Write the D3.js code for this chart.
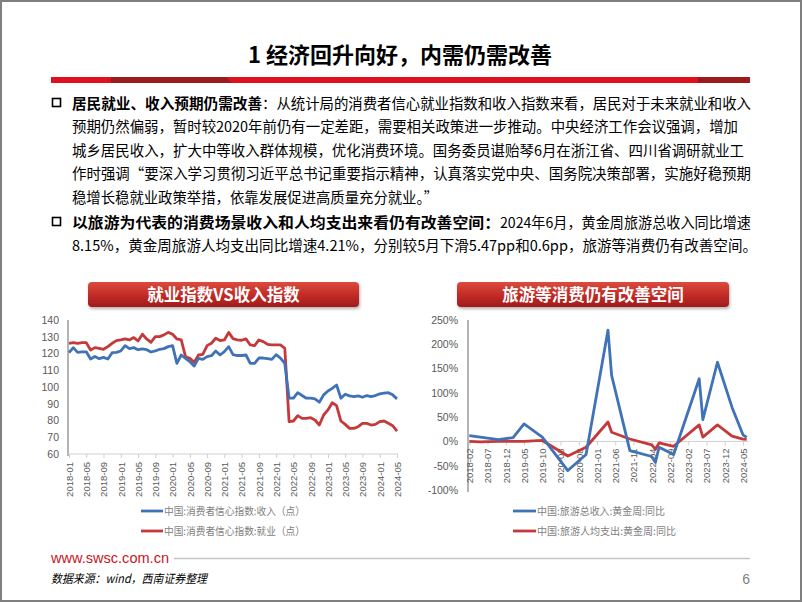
<!DOCTYPE html>
<html><head><meta charset="utf-8">
<script src="https://cdnjs.cloudflare.com/ajax/libs/d3/7.8.5/d3.min.js"></script>
<style>
html,body{margin:0;padding:0;background:#fff;}
svg{display:block;font-family:"Noto Sans CJK SC","Noto Sans",sans-serif;}
</style></head>
<body>
<svg id="c" width="802" height="602"></svg>
<script>
// ---------- DATA ----------
const pageTitle = "1 经济回升向好，内需仍需改善";
const leftTitle = "就业指数VS收入指数";
const rightTitle = "旅游等消费仍有改善空间";

// Left chart: monthly 2018-01 .. 2024-05
const leftStart = "2018-01";
const leftTickLabels = ["2018-01","2018-05","2018-09","2019-01","2019-05","2019-09","2020-01","2020-05","2020-09","2021-01","2021-05","2021-09","2022-01","2022-05","2022-09","2023-01","2023-05","2023-09","2024-01","2024-05"];
const leftYTicks = [60,70,80,90,100,110,120,130,140];
const incomeIndex = [120.5,123.5,120.7,121,121,116.7,118.2,116.9,117.7,116.7,120.5,120.7,121.5,124.7,122.9,123.5,122.3,122.7,122.3,120.9,
  121.5,122.5,122.9,124.1,124.7,114.1,119.1,117.1,115.1,112.5,117.1,116.5,118.1,118.7,121.5,119.1,121.1,124.1,119.3,118.8,
  118.8,119.1,114.1,114.1,117.3,117.3,116.9,116.5,119.3,117.3,114.1,93.3,93.3,96.6,94.9,93.3,93.3,92.9,90.9,95.3,
  97.6,99.2,101.2,93.3,95.7,94.7,94.3,94.7,93.9,94.9,94.3,94.9,95.9,96.3,96.6,95.3,92.9];
const employIndex = [126.1,126.5,126.1,126.5,126.5,122.1,123.5,123.1,122.5,124.1,126.1,127.7,128.1,128.7,128.1,129.5,127.5,131.5,128.7,126.7,
  130.1,130.1,131.1,132.6,131.5,128.7,128.1,118.1,117.1,114.7,119.1,119.5,124.7,126.1,129.1,127.7,128.1,132.6,128.9,128.1,
  127.9,128.7,125.1,124.7,128.1,127.1,125.5,125.1,125.1,125.1,123.1,79.3,79.7,82.9,81.3,81.3,81.7,80.3,77.3,83.3,
  86.3,90.6,88.9,79.7,77.7,75.3,75.3,76.3,78.3,78.3,77.3,77.7,79.3,79.7,78.3,76.9,73.7];
const leftLegend = ["中国:消费者信心指数:收入（点）","中国:消费者信心指数:就业（点）"];

// Right chart: golden-week observations
const rightStart = "2018-02";
const rightEnd = "2024-06";
const rightTickLabels = ["2018-02","2018-07","2018-12","2019-05","2019-10","2020-03","2020-08","2021-01","2021-06","2021-11","2022-04","2022-09","2023-02","2023-07","2023-12","2024-05"];
const rightYTicks = [-100,-50,0,50,100,150,200,250];
const tourDates = ["2018-02","2018-05","2018-10","2019-02","2019-05","2019-10","2020-05","2020-10","2021-04","2021-05","2021-10","2022-04","2022-05","2022-06","2022-10","2023-05","2023-06","2023-10","2024-02","2024-05","2024-06"];
const tourRevenue = [12,9,3.5,8,36,9,-60,-27,229,136,-19,-31,-43,-12,-27,129,45,163,70,13.6,8.15];
const tourSpend   = [0,-1,0,0,0,2,-30,-12,40,19,5,-7,-16,-3,-10,34,9,34,11,4.8,4.21];
const rightLegend = ["中国:旅游总收入:黄金周:同比","中国:旅游人均支出:黄金周:同比"];

// Text block
const bullet1 = [
  {b:"居民就业、收入预期仍需改善", t:"：从统计局的消费者信心就业指数和收入指数来看，居民对于未来就业和收入"},
  {t:"预期仍然偏弱，暂时较2020年前仍有一定差距，需要相关政策进一步推动。中央经济工作会议强调，增加"},
  {t:"城乡居民收入，扩大中等收入群体规模，优化消费环境。国务委员谌贻琴6月在浙江省、四川省调研就业工"},
  {t:"作时强调“要深入学习贯彻习近平总书记重要指示精神，认真落实党中央、国务院决策部署，实施好稳预期"},
  {t:"稳增长稳就业政策举措，依靠发展促进高质量充分就业。”"}
];
const bullet2 = [
  {b:"以旅游为代表的消费场景收入和人均支出来看仍有改善空间：", t:"2024年6月，黄金周旅游总收入同比增速"},
  {t:"8.15%，黄金周旅游人均支出同比增速4.21%，分别较5月下滑5.47pp和0.6pp，旅游等消费仍有改善空间。"}
];
const footerUrl = "www.swsc.com.cn";
const footerSource = "数据来源：wind，西南证券整理";
const pageNum = "6";

// ---------- DRAW ----------
const svg = d3.select("#c");
const defs = svg.append("defs");
const g1 = defs.append("linearGradient").attr("id","tb").attr("x1",0).attr("y1",0).attr("x2",0).attr("y2",1);
g1.append("stop").attr("offset","0%").attr("stop-color","#dc4a3e");
g1.append("stop").attr("offset","55%").attr("stop-color","#c02a26");
g1.append("stop").attr("offset","100%").attr("stop-color","#a11b1c");
const sh = defs.append("filter").attr("id","sh").attr("x","-10%").attr("y","-20%").attr("width","120%").attr("height","160%");
sh.append("feDropShadow").attr("dx",1).attr("dy",2).attr("stdDeviation",1.5).attr("flood-color","#000").attr("flood-opacity",0.3);

// page border
svg.append("rect").attr("x",1).attr("y",1).attr("width",800).attr("height",600)
  .attr("fill","#fff").attr("stroke","#7f7f7f").attr("stroke-width",2);

// title
svg.append("text").attr("x",400).attr("y",63).attr("text-anchor","middle")
  .attr("font-size",22).attr("font-weight",700).attr("fill","#000").text(pageTitle);
// red rule
svg.append("rect").attr("x",51).attr("y",77).attr("width",699).attr("height",6).attr("fill","#df111c");
svg.append("path").attr("d","M111,77 L226,77 L232,83 L111,83 Z").attr("fill","#9c1a1d");
svg.append("rect").attr("x",698).attr("y",77).attr("width",52).attr("height",6).attr("fill","#9c1a1d");

// text block
const FS = 14.5;
function drawLines(lines, y0, widths){
  lines.forEach((ln,i)=>{
    const y = y0 + i*23.6;
    const w = widths[i];
    if(ln.b){
      svg.append("text").attr("x",72).attr("y",y).attr("font-size",FS).attr("font-weight",700)
        .attr("textLength",w[0]-72).attr("lengthAdjust","spacingAndGlyphs").attr("fill","#000").text(ln.b);
      svg.append("text").attr("x",w[0]).attr("y",y).attr("font-size",FS)
        .attr("textLength",w[1]-w[0]).attr("lengthAdjust","spacingAndGlyphs").attr("fill","#000").text(ln.t);
    } else {
      svg.append("text").attr("x",72).attr("y",y).attr("font-size",FS)
        .attr("textLength",w-72).attr("lengthAdjust","spacingAndGlyphs").attr("fill","#000").text(ln.t);
    }
  });
}
function bulletBox(y){
  svg.append("rect").attr("x",52.5).attr("y",y-4.5).attr("width",8).attr("height",8)
    .attr("fill","none").attr("stroke","#000").attr("stroke-width",1.6);
}
bulletBox(103);
drawLines(bullet1, 108.5, [[262,751],738,744,751,438]);
bulletBox(222);
drawLines(bullet2, 227.5, [[500,751],757]);

// chart title boxes
function titleBox(x,w,label){
  svg.append("rect").attr("x",x).attr("y",282).attr("width",w).attr("height",25).attr("rx",4)
    .attr("fill","url(#tb)").attr("filter","url(#sh)");
  svg.append("text").attr("x",x+w/2).attr("y",300.5).attr("text-anchor","middle")
    .attr("font-size",16.5).attr("font-weight",700).attr("fill","#fff").text(label);
}
titleBox(88,271,leftTitle);
titleBox(457,272,rightTitle);

function monthIdx(s, base){
  const [y,m] = s.split("-").map(Number);
  const [by,bm] = base.split("-").map(Number);
  return (y-by)*12 + (m-bm);
}

const BLUE = "#3f72b6", RED = "#c5393a";
const tickCol = "#595959";

// ---- LEFT CHART ----
const nL = incomeIndex.length;
const xL = d3.scaleLinear().domain([0, nL-1]).range([69, 397]);
const yL = d3.scaleLinear().domain([60,140]).range([454,320]);
const gl = svg.append("g");
const yAxL = d3.axisLeft(yL).tickValues(leftYTicks).tickSize(0).tickPadding(9);
const ya = gl.append("g").attr("transform","translate(68,0)").call(yAxL);
ya.select(".domain").remove();
ya.selectAll("text").attr("font-family","'Liberation Sans',Arial,sans-serif").attr("font-size",10.5).attr("fill",tickCol);
gl.append("line").attr("x1",68).attr("x2",68).attr("y1",320).attr("y2",456).attr("stroke","#8c8c8c").attr("stroke-width",1.3);
const xAxL = d3.axisBottom(xL)
  .tickValues(leftTickLabels.map(s=>monthIdx(s,leftStart)))
  .tickFormat((d,i)=>leftTickLabels[i]).tickSize(4).tickSizeOuter(0);
const xa = gl.append("g").attr("transform","translate(0,454)").call(xAxL);
xa.select(".domain").attr("stroke","#d0d0d0").attr("d","M68,0H398");
xa.selectAll(".tick line").attr("stroke","#d0d0d0");
xa.selectAll("text").attr("font-family","'Liberation Sans',Arial,sans-serif").attr("font-size",9.5).attr("fill",tickCol)
  .attr("text-anchor","end").attr("transform","rotate(-90)").attr("x",-8).attr("y",0).attr("dy","0.35em");
const lineL = d3.line().x((d,i)=>xL(i)).y(d=>yL(d)).curve(d3.curveLinear);
gl.append("path").datum(employIndex).attr("d",lineL).attr("fill","none").attr("stroke",RED).attr("stroke-width",2.8).attr("stroke-linejoin","round");
gl.append("path").datum(incomeIndex).attr("d",lineL).attr("fill","none").attr("stroke",BLUE).attr("stroke-width",2.8).attr("stroke-linejoin","round");
[[BLUE,511,leftLegend[0]],[RED,531,leftLegend[1]]].forEach(([c,y,t])=>{
  gl.append("line").attr("x1",141).attr("x2",163).attr("y1",y).attr("y2",y).attr("stroke",c).attr("stroke-width",2.8);
  gl.append("text").attr("x",164).attr("y",y+3.8).attr("font-size",10.5).attr("fill","#7f7f7f")
    .attr("textLength",141).attr("lengthAdjust","spacingAndGlyphs").text(t);
});

// ---- RIGHT CHART ----
const nR = monthIdx(rightEnd, rightStart);
const xR = d3.scaleLinear().domain([0, 75]).range([469.3, 743]);
const yR = d3.scaleLinear().domain([-100,250]).range([490,320]);
const gr = svg.append("g");
const yAxR = d3.axisLeft(yR).tickValues(rightYTicks).tickFormat(d=>d+"%").tickSize(0).tickPadding(10);
const yb = gr.append("g").attr("transform","translate(468,0)").call(yAxR);
yb.select(".domain").remove();
yb.selectAll("text").attr("font-family","'Liberation Sans',Arial,sans-serif").attr("font-size",10.5).attr("fill",tickCol);
gr.append("line").attr("x1",468).attr("x2",468).attr("y1",320).attr("y2",492).attr("stroke","#8c8c8c").attr("stroke-width",1.3);
const xAxR = d3.axisBottom(xR)
  .tickValues(rightTickLabels.map(s=>monthIdx(s,rightStart)))
  .tickFormat((d,i)=>rightTickLabels[i]).tickSize(4).tickSizeOuter(0);
const xb = gr.append("g").attr("transform",`translate(0,${yR(0)})`).call(xAxR);
xb.select(".domain").attr("stroke","#d0d0d0").attr("d",`M468,0H${xR(nR)+2}`);
xb.selectAll(".tick line").attr("stroke","#d0d0d0");
xb.selectAll("text").attr("font-family","'Liberation Sans',Arial,sans-serif").attr("font-size",9.5).attr("fill",tickCol)
  .attr("text-anchor","end").attr("transform","rotate(-90)").attr("x",-7).attr("y",0).attr("dy","0.35em");
const tourX = tourDates.map(s=>monthIdx(s,rightStart));
const lineR = d3.line().x(d=>xR(d[0])).y(d=>yR(d[1]));
gr.append("path").datum(tourX.map((m,i)=>[m,tourSpend[i]])).attr("d",lineR).attr("fill","none").attr("stroke",RED).attr("stroke-width",2.8).attr("stroke-linejoin","round");
gr.append("path").datum(tourX.map((m,i)=>[m,tourRevenue[i]])).attr("d",lineR).attr("fill","none").attr("stroke",BLUE).attr("stroke-width",2.8).attr("stroke-linejoin","round");
[[BLUE,511,rightLegend[0],128],[RED,531,rightLegend[1],139]].forEach(([c,y,t,w])=>{
  gr.append("line").attr("x1",513).attr("x2",536).attr("y1",y).attr("y2",y).attr("stroke",c).attr("stroke-width",2.8);
  gr.append("text").attr("x",537).attr("y",y+3.8).attr("font-size",10.5).attr("fill","#7f7f7f")
    .attr("textLength",w).attr("lengthAdjust","spacingAndGlyphs").text(t);
});

// ---- FOOTER ----
svg.append("text").attr("x",51).attr("y",563).attr("font-family","'Liberation Sans',Arial,sans-serif")
  .attr("font-size",14.5).attr("fill","#c8161e").attr("textLength",118).attr("lengthAdjust","spacingAndGlyphs").text(footerUrl);
svg.append("line").attr("x1",174).attr("x2",750).attr("y1",558.5).attr("y2",558.5).attr("stroke","#c4c4c4").attr("stroke-width",1.5);
svg.append("text").attr("x",51).attr("y",583).attr("font-size",12).attr("font-style","italic").attr("fill","#000")
  .attr("textLength",156).attr("lengthAdjust","spacingAndGlyphs").text(footerSource);
svg.append("text").attr("x",750).attr("y",584).attr("text-anchor","end").attr("font-family","'Liberation Sans',Arial,sans-serif")
  .attr("font-size",14).attr("fill","#7f7f7f").text(pageNum);
</script>
</body></html>
